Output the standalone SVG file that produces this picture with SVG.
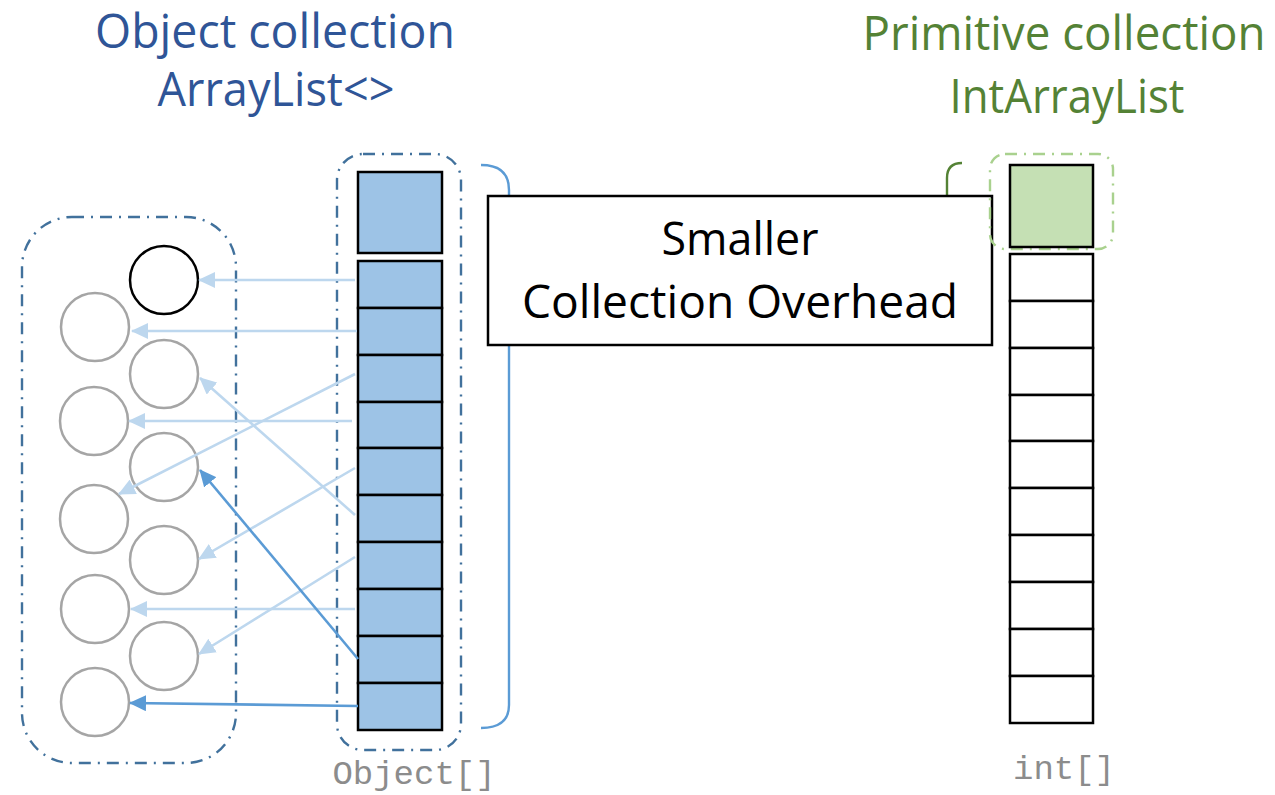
<svg xmlns="http://www.w3.org/2000/svg" width="1275" height="795" viewBox="0 0 1275 795">
<style>
.title{font-family:"Open Sans","Noto Sans",sans-serif;font-size:47px}
.blue{fill:#2F5597}
.green{fill:#548235}
.box{font-family:"Open Sans","Noto Sans",sans-serif;font-size:45px;fill:#000}
.mono{font-family:"Liberation Mono","DejaVu Sans Mono",monospace;font-size:34px;fill:#8C8C8C}
.cont{fill:none;stroke:#41719C;stroke-width:2.4;stroke-dasharray:12 7 2 7}
.gcont{fill:none;stroke:#A9D18E;stroke-width:2.4;stroke-dasharray:12 7 2 7}
.cell{fill:#9DC3E6;stroke:#000;stroke-width:2.5}
.icell{fill:#fff;stroke:#000;stroke-width:2.5}
.obj{fill:#fff;stroke:#A5A5A5;stroke-width:2.5}
.light{stroke:#BDD7EE;stroke-width:2.6;fill:none;marker-end:url(#ahL)}
.dark{stroke:#5B9BD5;stroke-width:2.6;fill:none;marker-end:url(#ahD)}
</style>
<defs>
<marker id="ahL" markerUnits="userSpaceOnUse" markerWidth="18" markerHeight="16" refX="16" refY="8" orient="auto">
<path d="M0,0 L17,8 L0,16 Z" fill="#BDD7EE"/>
</marker>
<marker id="ahD" markerUnits="userSpaceOnUse" markerWidth="18" markerHeight="16" refX="16" refY="8" orient="auto">
<path d="M0,0 L17,8 L0,16 Z" fill="#5B9BD5"/>
</marker>
</defs>
<rect width="1275" height="795" fill="#fff"/>

<g id="title-object">
<text class="title blue" x="275" y="48" text-anchor="middle" textLength="360" lengthAdjust="spacingAndGlyphs">Object collection</text>
<text class="title blue" x="276" y="106" text-anchor="middle" textLength="237" lengthAdjust="spacingAndGlyphs">ArrayList&lt;&gt;</text>
</g>
<g id="title-primitive">
<text class="title green" x="1064" y="50" text-anchor="middle" textLength="403" lengthAdjust="spacingAndGlyphs">Primitive collection</text>
<text class="title green" x="1067" y="113" text-anchor="middle" textLength="235" lengthAdjust="spacingAndGlyphs">IntArrayList</text>
</g>

<g id="objects-container">
<rect class="cont" x="22" y="217" width="214" height="546" rx="50" ry="50"/>
</g>
<g id="objects">
<circle cx="164" cy="280" r="34" fill="#fff" stroke="#000" stroke-width="2.5"/>
<circle class="obj" cx="95" cy="327" r="34"/>
<circle class="obj" cx="164" cy="374" r="34"/>
<circle class="obj" cx="94" cy="421" r="34"/>
<circle class="obj" cx="164" cy="467" r="34"/>
<circle class="obj" cx="94" cy="519" r="34"/>
<circle class="obj" cx="164" cy="560" r="34"/>
<circle class="obj" cx="95" cy="609" r="34"/>
<circle class="obj" cx="164" cy="656" r="34"/>
<circle class="obj" cx="95" cy="702" r="34"/>
</g>

<g id="object-array">
<rect class="cont" x="337" y="154" width="124" height="596" rx="26" ry="26"/>
<rect class="cell" x="358" y="172" width="84" height="81"/>
<rect class="cell" x="358" y="261" width="84" height="47"/>
<rect class="cell" x="358" y="308" width="84" height="47"/>
<rect class="cell" x="358" y="355" width="84" height="47"/>
<rect class="cell" x="358" y="402" width="84" height="46"/>
<rect class="cell" x="358" y="448" width="84" height="47"/>
<rect class="cell" x="358" y="495" width="84" height="47"/>
<rect class="cell" x="358" y="542" width="84" height="47"/>
<rect class="cell" x="358" y="589" width="84" height="47"/>
<rect class="cell" x="358" y="636" width="84" height="47"/>
<rect class="cell" x="358" y="683" width="84" height="47"/>
<text class="mono" x="414" y="784" text-anchor="middle">Object[]</text>
</g>

<g id="connectors">
<line class="light" x1="355" y1="280" x2="199" y2="280"/>
<line class="light" x1="357" y1="331" x2="132" y2="331"/>
<line class="light" x1="355" y1="374" x2="119" y2="494"/>
<line class="light" x1="352" y1="421" x2="129" y2="421"/>
<line class="light" x1="355" y1="515" x2="200" y2="378"/>
<line class="light" x1="355" y1="468" x2="199" y2="559"/>
<line class="light" x1="355" y1="557" x2="199" y2="654"/>
<line class="light" x1="355" y1="609" x2="131" y2="609"/>
<line class="dark" x1="358" y1="659" x2="200" y2="470"/>
<line class="dark" x1="358" y1="706" x2="130" y2="703"/>
<path d="M481,165 Q509,165 509,190 L509,705 Q509,728 481,728" fill="none" stroke="#5B9BD5" stroke-width="2.4"/>
<path d="M962,163 Q947,163 947,178 L947,197" fill="none" stroke="#548235" stroke-width="2.4"/>
</g>

<g id="overhead-label">
<rect x="488" y="196" width="504" height="149" fill="#fff" stroke="#000" stroke-width="2.5"/>
<text class="box" x="740" y="255" text-anchor="middle" textLength="157" lengthAdjust="spacingAndGlyphs">Smaller</text>
<text class="box" x="740" y="318" text-anchor="middle" textLength="436" lengthAdjust="spacingAndGlyphs">Collection Overhead</text>
</g>

<g id="int-array">
<rect class="gcont" x="990" y="154" width="123" height="95" rx="15" ry="15"/>
<rect x="1010" y="165" width="83" height="82" fill="#C5E0B4" stroke="#000" stroke-width="2.5"/>
<rect class="icell" x="1010" y="254" width="83" height="47"/>
<rect class="icell" x="1010" y="301" width="83" height="47"/>
<rect class="icell" x="1010" y="348" width="83" height="47"/>
<rect class="icell" x="1010" y="395" width="83" height="46"/>
<rect class="icell" x="1010" y="441" width="83" height="47"/>
<rect class="icell" x="1010" y="488" width="83" height="47"/>
<rect class="icell" x="1010" y="535" width="83" height="47"/>
<rect class="icell" x="1010" y="582" width="83" height="47"/>
<rect class="icell" x="1010" y="629" width="83" height="47"/>
<rect class="icell" x="1010" y="676" width="83" height="47"/>
<text class="mono" x="1064" y="779" text-anchor="middle">int[]</text>
</g>
</svg>
